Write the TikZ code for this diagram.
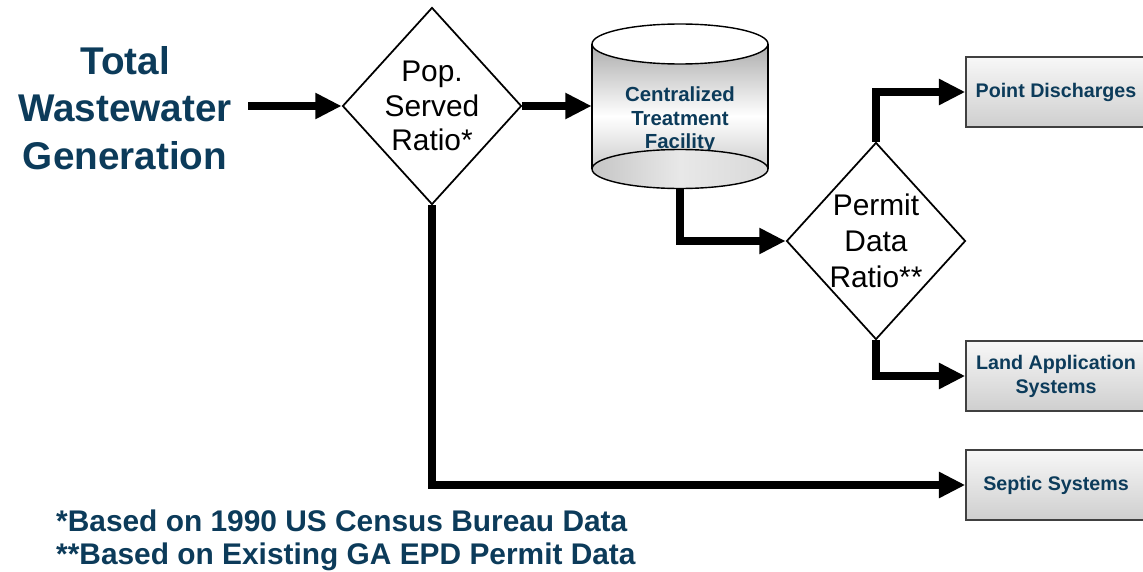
\documentclass[tikz,border=0pt]{standalone}
\usepackage{fontspec}
\setmainfont{Liberation Sans}
\usetikzlibrary{shapes.geometric,arrows.meta}
\definecolor{wwblue}{RGB}{12,59,90}
\tikzset{
  decision/.style={diamond, draw, line width=1pt, fill=white, inner sep=-3pt,
    aspect=0.91, minimum width=3.58cm, minimum height=3.94cm, align=center,
    font=\fontsize{17}{19.5}\selectfont},
  sink/.style={rectangle, draw=black!75, line width=0.8pt, top color=gray!6,
    bottom color=gray!38, minimum width=3.6cm, minimum height=1.4cm, align=center,
    text=wwblue, font=\fontsize{11.2}{13.6}\selectfont\bfseries},
  flow/.style={line width=4.5pt, -{Triangle[length=15pt,width=14pt]}},
  footnote/.style={anchor=base west, text=wwblue, font=\fontsize{17}{18.7}\selectfont\bfseries},
}
\begin{document}
\begin{tikzpicture}
    \useasboundingbox (0, 0) rectangle (22.86, 11.42);

    \node[text=wwblue, align=center, font=\fontsize{22}{27}\selectfont\bfseries] (total) at (2.5, 9.26) {Total\\Wastewater\\Generation};
    \node[decision] (pop) at (8.64, 9.30) {Pop.\\Served\\Ratio*};

    % centralized treatment facility (cylinder)
    \node[minimum width=3.52cm, minimum height=3.28cm, inner sep=0pt] (ctf) at (13.6, 9.30) {};
    \shade[top color=gray!65, bottom color=gray!55, middle color=white]
      (11.84, 10.54) -- (11.84, 8.04) arc[start angle=180, end angle=360, x radius=1.76, y radius=0.39]
      -- (15.36, 10.54) -- cycle;
    \node[text=wwblue, align=center, font=\fontsize{11.6}{13.3}\selectfont\bfseries] (ctftext) at (13.6, 9.02) {Centralized\\Treatment\\Facility};
    \shade[left color=gray!45, right color=gray!30, middle color=gray!18, draw=black, line width=0.8pt]
      (13.6, 8.04) ellipse[x radius=1.76, y radius=0.39];
    \draw[line width=0.8pt] (11.84, 10.54) -- (11.84, 8.04);
    \draw[line width=0.8pt] (15.36, 10.54) -- (15.36, 8.04);
    \filldraw[fill=white, line width=0.8pt] (13.6, 10.54) ellipse[x radius=1.76, y radius=0.40];

    \node[decision, font=\fontsize{17}{20.5}\selectfont] (permit) at (17.52, 6.60) {Permit\\Data\\Ratio**};

    \node[sink] (point) at (21.12, 9.58) {Point Discharges};
    \node[sink] (land) at (21.12, 3.90) {Land Application\\Systems};
    \node[sink] (septic) at (21.12, 1.72) {Septic Systems};

    \draw[flow] ([xshift=6pt]total.east |- pop.west) -- (pop.west);
    \draw[flow] (pop.east) -- (ctf.west);
    \draw[flow] (ctf.south) |- (permit.west);
    \draw[flow] (permit.north) |- (point.west);
    \draw[flow] (permit.south) |- (land.west);
    \draw[flow] (pop.south) |- (septic.west);

    \node[footnote] (note1) at (1.0, 0.80) {*Based on 1990 US Census Bureau Data};
    \node[footnote] (note2) at (1.0, 0.14) {**Based on Existing GA EPD Permit Data};
\end{tikzpicture}
\end{document}
